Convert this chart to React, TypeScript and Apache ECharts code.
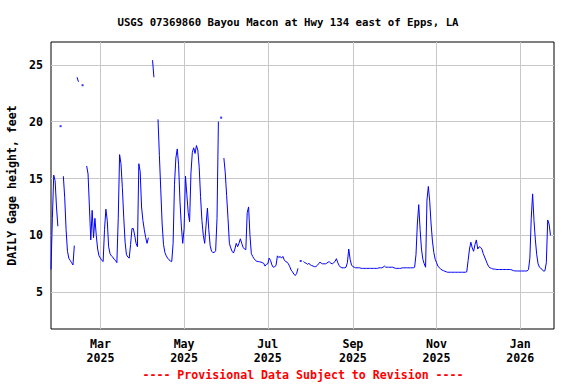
import React, { useEffect, useRef } from 'react';
import * as echarts from 'echarts';

const START_DATE = '2025-01-24';
const X_MIN = '2025-01-24T00:00:00Z';
const X_MAX = '2026-01-25T14:00:00Z';
const Y_MIN = 1.77;
const Y_MAX = 27.0;

// Daily gage height (feet), one value per day from START_DATE; null = no data
const gageHeight: (number | null)[] = [
  7.0, 11.5, 15.3, 14.8, 12.5, 10.8, null, 19.6, null, 15.2,
  13.3, 10.5, 8.6, 8.0, 7.8, 7.6, 7.4, 9.1, null, 23.9,
  23.5, null, null, 23.2, null, null, 16.1, 15.4, 12.5, 9.6,
  12.2, 9.8, 11.5, 10.0, 8.8, 8.2, 8.0, 7.8, 7.7, 10.5,
  12.3, 11.3, 9.0, 8.4, 8.2, 8.1, 7.9, 7.8, 7.6, 11.5,
  17.1, 16.3, 14.2, 11.6, 9.4, 8.3, 8.1, 8.0, 9.2, 10.6,
  10.6, 10.0, 9.3, 9.0, 16.3, 15.6, 12.5, 11.3, 10.5, 9.8,
  9.3, 9.8, null, null, 25.4, 23.9, null, null, 20.2, 17.0,
  14.0, 11.0, 9.2, 8.5, 8.2, 8.0, 7.85, 7.75, 7.7, 9.3,
  14.5, 16.8, 17.6, 16.2, 13.0, 10.8, 9.3, 10.6, 15.2, 13.6,
  12.0, 11.2, 15.5, 17.3, 17.7, 17.2, 17.9, 17.5, 16.0, 13.4,
  11.3, 10.0, 9.3, 10.9, 12.4, 10.5, 9.1, 8.6, 8.5, 8.5,
  8.65, 11.5, 20.0, null, 20.35, null, 16.8, 15.5, 13.5, 11.5,
  9.3, 8.9, 8.6, 8.45, 8.8, 9.3, 9.0, 9.3, 9.7, 9.3,
  8.95, 8.8, 8.75, 12.0, 12.5, 10.0, 8.4, 8.15, 7.95, 7.8,
  7.72, 7.7, 7.68, 7.65, 7.6, 7.55, 7.3, 7.45, 7.5, 8.0,
  7.8, 7.4, 7.2, 7.25, 7.35, 8.2, 8.05, 8.15, 8.0, 8.15,
  7.85, 7.7, 7.65, 7.5, 7.25, 6.95, 6.8, 6.6, 6.47, 6.65,
  7.1, null, 7.75, null, 7.7, 7.6, 7.55, 7.45, 7.55, 7.4,
  7.35, 7.3, 7.25, 7.25, 7.35, 7.5, 7.65, 7.55, 7.5, 7.5,
  7.5, 7.55, 7.66, 7.66, 7.55, 7.5, 7.6, 7.7, 7.95, 7.6,
  7.35, 7.2, 7.15, 7.15, 7.15, 7.2, 7.6, 8.8, 7.9, 7.4,
  7.25, 7.2, 7.15, 7.15, 7.15, 7.15, 7.1, 7.1, 7.1, 7.1,
  7.1, 7.1, 7.1, 7.1, 7.1, 7.1, 7.1, 7.1, 7.1, 7.15,
  7.15, 7.15, 7.2, 7.3, 7.2, 7.2, 7.2, 7.2, 7.2, 7.2,
  7.15, 7.1, 7.1, 7.1, 7.1, 7.1, 7.15, 7.15, 7.15, 7.15,
  7.15, 7.15, 7.15, 7.15, 7.15, 7.2, 8.3, 11.0, 12.7, 10.5,
  8.8, 7.9, 7.5, 7.2, 13.1, 14.3, 13.0, 11.0, 9.5, 8.5,
  7.9, 7.6, 7.3, 7.15, 7.05, 6.95, 6.9, 6.85, 6.8, 6.76,
  6.76, 6.76, 6.76, 6.76, 6.76, 6.76, 6.76, 6.76, 6.76, 6.76,
  6.76, 6.76, 6.76, 6.8, 7.8, 8.8, 9.4, 8.9, 8.6, 9.2,
  9.6, 8.8, 9.0, 8.95, 8.8, 8.4, 8.1, 7.8, 7.5, 7.25,
  7.15, 7.1, 7.05, 7.04, 7.02, 7.0, 7.0, 7.0, 7.0, 7.0,
  7.0, 7.0, 7.0, 7.0, 7.0, 7.0, 6.95, 6.9, 6.88, 6.87,
  6.87, 6.87, 6.87, 6.87, 6.87, 6.87, 6.87, 6.87, 7.0, 8.0,
  11.5, 13.65, 11.3, 9.6, 8.3, 7.5, 7.2, 7.1, 7.0, 6.85,
  6.9, 7.6, 11.35, 11.0, 10.0,
];

const xTickDates = ['2025-03-01', '2025-05-01', '2025-07-01', '2025-09-01', '2025-11-01', '2026-01-01'];
const yTickValues = [5, 10, 15, 20, 25];
const monthNames = ['Jan', 'Feb', 'Mar', 'Apr', 'May', 'Jun', 'Jul', 'Aug', 'Sep', 'Oct', 'Nov', 'Dec'];

const TITLE = 'USGS 07369860 Bayou Macon at Hwy 134 east of Epps, LA';
const Y_NAME = 'DAILY Gage height, feet';
const FOOTER = '---- Provisional Data Subject to Revision ----';

const FONT = '"DejaVu Sans Mono", "Liberation Mono", monospace';
const DAY = 86400000;

export default function App() {
  const ref = useRef<HTMLDivElement>(null);

  useEffect(() => {
    if (!ref.current) return;
    const chart = echarts.init(ref.current, undefined, { renderer: 'svg' });
    const t0 = Date.parse(START_DATE + 'T00:00:00Z');
    const lineData = gageHeight.map((v, i) => [t0 + i * DAY, v === null ? '-' : v]);
    const isolated = gageHeight
      .map((v, i) => {
        const prev = i > 0 ? gageHeight[i - 1] : null;
        const next = i < gageHeight.length - 1 ? gageHeight[i + 1] : null;
        return v !== null && prev === null && next === null ? [t0 + i * DAY, v] : null;
      })
      .filter((p) => p !== null);
    const xTicks = xTickDates.map((d) => Date.parse(d + 'T00:00:00Z'));

    chart.setOption({
      animation: false,
      title: {
        text: TITLE,
        left: 'center',
        top: 12,
        textStyle: { fontFamily: FONT, fontSize: 10.7, fontWeight: 'bold', color: '#000' },
      },
      grid: {
        left: 51,
        right: 22,
        top: 42,
        bottom: 55,
        show: true,
        borderColor: '#000',
        borderWidth: 1,
        backgroundColor: 'transparent',
        outerBoundsMode: 'none',
        containLabel: false,
      },
      xAxis: {
        type: 'value',
        min: Date.parse(X_MIN),
        max: Date.parse(X_MAX),
        axisLine: { show: false },
        axisTick: { show: false, customValues: xTicks },
        splitLine: { show: true, lineStyle: { color: '#c8c8c8', width: 1 } },
        axisLabel: {
          customValues: xTicks,
          formatter: (v: number) => {
            const d = new Date(v);
            return monthNames[d.getUTCMonth()] + '\n' + d.getUTCFullYear();
          },
          fontFamily: FONT,
          fontSize: 11.6,
          fontWeight: 'bold',
          lineHeight: 13.7,
          color: '#000',
          margin: 8,
        },
      },
      yAxis: {
        type: 'value',
        min: Y_MIN,
        max: Y_MAX,
        name: Y_NAME,
        nameLocation: 'middle',
        nameGap: 33,
        nameTextStyle: { fontFamily: FONT, fontSize: 11.6, fontWeight: 'bold', color: '#000' },
        axisLine: { show: false },
        axisTick: { show: false, customValues: yTickValues },
        splitLine: { show: true, lineStyle: { color: '#c8c8c8', width: 1 } },
        axisLabel: {
          customValues: yTickValues,
          fontFamily: FONT,
          fontSize: 11.6,
          fontWeight: 'bold',
          color: '#000',
          margin: 8,
        },
      },
      series: [
        {
          type: 'line',
          data: lineData,
          showSymbol: false,
          connectNulls: false,
          lineStyle: { color: '#0000ff', width: 1 },
          itemStyle: { color: '#0000ff' },
          silent: true,
        },
        {
          type: 'scatter',
          data: isolated,
          symbol: 'rect',
          symbolSize: 2,
          itemStyle: { color: '#0000ff' },
          silent: true,
        },
      ],
      graphic: [
        {
          type: 'text',
          x: 303,
          y: 375,
          style: {
            text: FOOTER,
            fill: '#ff0000',
            font: 'bold 11.6px ' + FONT,
            align: 'center',
            verticalAlign: 'middle',
          },
        },
      ],
    });

    return () => chart.dispose();
  }, []);

  return (
    <div
      ref={ref}
      style={{ position: 'fixed', left: 0, top: 0, width: 576, height: 384, background: '#fff' }}
    />
  );
}
